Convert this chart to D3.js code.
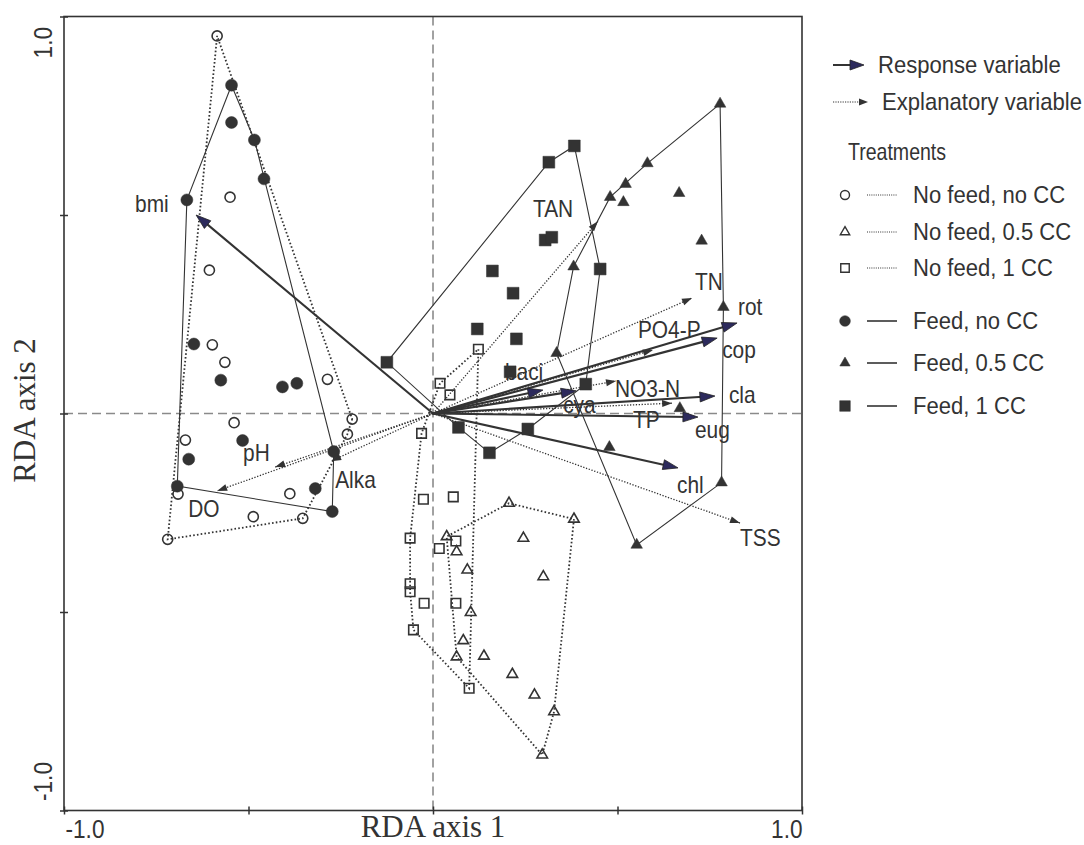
<!DOCTYPE html>
<html>
<head>
<meta charset="utf-8">
<script src="https://cdn.jsdelivr.net/npm/d3@7"></script>
<style>
  body { margin: 0; background: #fff; }
  text { fill: #333; }
  .sans { font-family: "Liberation Sans", Arial, Helvetica, sans-serif; }
  .serif { font-family: "Liberation Serif", "Times New Roman", serif; }
</style>
</head>
<body>
<svg id="chart" width="1084" height="845"></svg>
<script>
// ---- RDA site scores (axis 1, axis 2), one array per treatment ----
const noFeedNoCC = [
  [-0.585, 0.951], [-0.550, 0.545], [-0.606, 0.361], [-0.598, 0.173], [-0.564, 0.129],
  [-0.286, 0.086], [-0.219, -0.014], [-0.232, -0.052], [-0.539, -0.023], [-0.671, -0.067],
  [-0.691, -0.203], [-0.388, -0.202], [-0.487, -0.260], [-0.353, -0.264], [-0.719, -0.317]
];
const noFeedHalfCC = [
  [0.206, -0.226], [0.382, -0.266], [0.037, -0.310], [0.064, -0.348], [0.245, -0.314],
  [0.299, -0.411], [0.093, -0.394], [0.102, -0.501], [0.082, -0.572], [0.064, -0.613],
  [0.138, -0.611], [0.215, -0.657], [0.275, -0.709], [0.328, -0.751], [0.296, -0.860]
];
const noFeedOneCC = [
  [0.123, 0.162], [0.019, 0.076], [0.046, 0.047], [-0.031, -0.050], [-0.026, -0.216],
  [0.055, -0.210], [-0.062, -0.314], [0.062, -0.321], [0.017, -0.340], [-0.062, -0.429],
  [-0.062, -0.449], [-0.024, -0.478], [0.062, -0.478], [-0.053, -0.545], [0.098, -0.692]
];
const feedNoCC = [
  [-0.546, 0.827], [-0.546, 0.733], [-0.484, 0.689], [-0.458, 0.591], [-0.667, 0.538],
  [-0.648, 0.175], [-0.575, 0.084], [-0.408, 0.067], [-0.369, 0.076], [-0.516, -0.068],
  [-0.662, -0.115], [-0.693, -0.183], [-0.269, -0.096], [-0.319, -0.189], [-0.273, -0.247]
];
const feedHalfCC = [
  [0.778, 0.780], [0.581, 0.630], [0.522, 0.578], [0.480, 0.545], [0.516, 0.532],
  [0.667, 0.555], [0.728, 0.435], [0.381, 0.370], [0.787, 0.268], [0.335, 0.152],
  [0.669, 0.013], [0.478, -0.085], [0.782, -0.174], [0.552, -0.331]
];
const feedOneCC = [
  [0.383, 0.674], [0.314, 0.633], [0.304, 0.437], [0.322, 0.444], [0.161, 0.359],
  [0.453, 0.364], [0.217, 0.303], [0.120, 0.213], [0.226, 0.188], [-0.125, 0.129],
  [0.209, 0.105], [0.414, 0.074], [0.257, -0.039], [0.153, -0.099], [0.069, -0.035]
];

// ---- Species / response variable arrows ----
const responseNames = ["bmi", "rot", "cop", "cla", "eug", "chl", "baci", "cya"];
const responseAxis1 = [-0.642, 0.824, 0.770, 0.764, 0.718, 0.664, 0.298, 0.388];
const responseAxis2 = [0.500, 0.228, 0.190, 0.044, -0.009, -0.137, 0.059, 0.057];

// ---- Environmental / explanatory variable arrows ----
const explanatoryNames = ["TAN", "TN", "PO4-P", "NO3-N", "TP", "TSS", "pH", "DO", "Alka"];
const explanatoryAxis1 = [0.447, 0.702, 0.596, 0.496, 0.648, 0.832, -0.428, -0.585, -0.276];
const explanatoryAxis2 = [0.484, 0.291, 0.160, 0.082, 0.026, -0.276, -0.135, -0.195, -0.120];

// ---- Axis ticks ----
const tickValues = [-1, -0.5, 0, 0.5, 1];
const tickLabels = ["-1.0", "", "", "", "1.0"];

const treatmentNames = ["No feed, no CC", "No feed, 0.5 CC", "No feed, 1 CC", "Feed, no CC", "Feed, 0.5 CC", "Feed, 1 CC"];

// ---------------------------------------------------------------
const ink = "#333";
const headFill = "#2c2a5c";
const narrow = 0.87;   // horizontal squeeze for the condensed sans lettering

const groups = [
  { pts: noFeedNoCC,   shape: d3.symbolCircle,   size: 80,  open: true,  fed: false },
  { pts: noFeedHalfCC, shape: d3.symbolTriangle, size: 48,  open: true,  fed: false },
  { pts: noFeedOneCC,  shape: d3.symbolSquare,   size: 90,  open: true,  fed: false },
  { pts: feedNoCC,     shape: d3.symbolCircle,   size: 113, open: false, fed: true },
  { pts: feedHalfCC,   shape: d3.symbolTriangle, size: 58,  open: false, fed: true },
  { pts: feedOneCC,    shape: d3.symbolSquare,   size: 140, open: false, fed: true }
];

// label placement (pixel offsets from the arrow tip to the text start / baseline)
const labelOffset = {
  bmi: [-61, -3], rot: [1, -8], cop: [5, 20], cla: [14, 7], eug: [-3, 21], chl: [-1, 25],
  baci: [-38, -10], cya: [-13, 22],
  TAN: [-65, -4], TN: [3, -8], "PO4-P": [-15, -12], "NO3-N": [-1, 16], TP: [-39, 25],
  TSS: [0, 23], pH: [-32, -6], DO: [-29, 26], Alka: [4, 27]
};

const svg = d3.select("#chart");
const plotLeft = 64, plotRight = 802, plotTop = 16.5, plotBottom = 810.5;
const x = d3.scaleLinear().domain([-1, 1]).range([plotLeft, plotRight]);
const y = d3.scaleLinear().domain([-1, 1]).range([plotBottom, plotTop]);

function sansText(parent, px, py, str, size, squeeze) {
  return parent.append("text").attr("class", "sans")
    .attr("transform", `translate(${px},${py}) scale(${squeeze || narrow},1)`)
    .attr("font-size", size).text(str);
}

// zero lines
svg.append("line")
  .attr("x1", plotLeft).attr("x2", plotRight).attr("y1", y(0)).attr("y2", y(0))
  .attr("stroke", "#8a8a8a").attr("stroke-width", 1.3).attr("stroke-dasharray", "9,5");
svg.append("line")
  .attr("x1", x(0)).attr("x2", x(0)).attr("y1", plotTop).attr("y2", plotBottom)
  .attr("stroke", "#444").attr("stroke-width", 1).attr("stroke-dasharray", "9,5");

// frame
svg.append("rect")
  .attr("x", plotLeft).attr("y", plotTop).attr("width", plotRight - plotLeft).attr("height", plotBottom - plotTop)
  .attr("fill", "none").attr("stroke", ink).attr("stroke-width", 1.6);

// axes: ticks cross the frame
const fmt = d => tickLabels[tickValues.indexOf(d)];
svg.append("g")
  .attr("transform", `translate(0,${plotBottom - 4})`)
  .call(d3.axisBottom(x).tickValues(tickValues).tickSizeInner(8).tickSizeOuter(0).tickFormat(fmt))
  .call(g => g.select(".domain").remove())
  .call(g => g.selectAll(".tick line").attr("stroke", ink).attr("stroke-width", 1.5))
  .call(g => g.selectAll(".tick text")
      .attr("class", "sans").attr("font-size", 26).attr("fill", ink)
      .attr("x", 0).attr("y", 0).attr("dy", 0)
      .attr("text-anchor", (d, i) => i === 0 ? "start" : "end")
      .attr("transform", (d, i) => `translate(${i === 0 ? 1 : 0},31) scale(${narrow},1)`));

svg.append("g")
  .attr("transform", `translate(${plotLeft + 4},0)`)
  .call(d3.axisLeft(y).tickValues(tickValues).tickSizeInner(8).tickSizeOuter(0).tickFormat(fmt))
  .call(g => g.select(".domain").remove())
  .call(g => g.selectAll(".tick line").attr("stroke", ink).attr("stroke-width", 1.5))
  .call(g => g.selectAll(".tick text")
      .attr("class", "sans").attr("font-size", 26).attr("fill", ink)
      .attr("x", 0).attr("y", 0).attr("dy", 0)
      .attr("text-anchor", (d, i) => i === 0 ? "start" : "end")
      .attr("transform", (d, i) => `translate(-16,${i === 0 ? -10 : 10}) rotate(-90) scale(${narrow},1)`));

// axis titles
svg.append("text").attr("class", "serif").attr("font-size", 31)
  .attr("x", x(0)).attr("y", 837).attr("text-anchor", "middle").text("RDA axis 1");
svg.append("text").attr("class", "serif").attr("font-size", 31)
  .attr("transform", `translate(35,${y(0) - 3}) rotate(-90)`)
  .attr("text-anchor", "middle").text("RDA axis 2");

// ---- treatment envelopes ----
const hullLine = d3.line().x(d => x(d[0])).y(d => y(d[1])).curve(d3.curveLinearClosed);
const envelopes = svg.append("g").attr("fill", "none");
groups.forEach(g => {
  const hull = d3.polygonHull(g.pts);
  const p = envelopes.append("path").attr("d", hullLine(hull)).attr("stroke", ink);
  if (g.fed) p.attr("stroke-width", 1.1);
  else p.attr("stroke-width", 1.8).attr("stroke-dasharray", "1.6,2.2");
});

// ---- arrows ----
function headPath(x1, y1, x2, y2, L, W) {
  const dx = x2 - x1, dy = y2 - y1, d = Math.hypot(dx, dy);
  const ux = dx / d, uy = dy / d;
  const bx = x2 - ux * L, by = y2 - uy * L;
  return `M${x2},${y2}L${bx - uy * W / 2},${by + ux * W / 2}L${bx + uy * W / 2},${by - ux * W / 2}Z`;
}

const explanatory = explanatoryNames.map((n, i) => ({ name: n, a1: explanatoryAxis1[i], a2: explanatoryAxis2[i] }));
const response = responseNames.map((n, i) => ({ name: n, a1: responseAxis1[i], a2: responseAxis2[i] }));

const arrows = svg.append("g");
explanatory.forEach(v => {
  const x2 = x(v.a1), y2 = y(v.a2);
  arrows.append("line").attr("x1", x(0)).attr("y1", y(0)).attr("x2", x2).attr("y2", y2)
    .attr("stroke", ink).attr("stroke-width", 1.3).attr("stroke-dasharray", "1.3,1.6");
  arrows.append("path").attr("d", headPath(x(0), y(0), x2, y2, 10, 7)).attr("fill", ink);
});
response.forEach(v => {
  const x2 = x(v.a1), y2 = y(v.a2);
  const d = Math.hypot(x2 - x(0), y2 - y(0));
  const k = (d - 8) / d;
  arrows.append("line").attr("x1", x(0)).attr("y1", y(0))
    .attr("x2", x(0) + (x2 - x(0)) * k).attr("y2", y(0) + (y2 - y(0)) * k)
    .attr("stroke", ink).attr("stroke-width", 2.1);
  arrows.append("path").attr("d", headPath(x(0), y(0), x2, y2, 15, 10))
    .attr("fill", headFill).attr("stroke", "#222").attr("stroke-width", 0.8);
});

// ---- site symbols ----
const sites = svg.append("g");
groups.forEach(g => {
  sites.selectAll(null).data(g.pts).join("path")
    .attr("transform", d => `translate(${x(d[0])},${y(d[1])})`)
    .attr("d", d3.symbol(g.shape, g.size))
    .attr("fill", g.open ? "none" : ink)
    .attr("stroke", ink)
    .attr("stroke-width", g.open ? 1.6 : 0.5);
});

// ---- variable labels ----
const labels = svg.append("g");
[...response, ...explanatory].forEach(v => {
  const o = labelOffset[v.name];
  sansText(labels, x(v.a1) + o[0], y(v.a2) + o[1], v.name, 24);
});

// ---- legend ----
const lg = svg.append("g");
const legendSqueeze = 0.92;
lg.append("line").attr("x1", 833).attr("x2", 853).attr("y1", 65).attr("y2", 65)
  .attr("stroke", ink).attr("stroke-width", 2);
lg.append("path").attr("d", headPath(833, 65, 864, 65, 14, 10)).attr("fill", headFill).attr("stroke", "#222").attr("stroke-width", 0.8);
sansText(lg, 878, 73, "Response variable", 24, legendSqueeze);
lg.append("line").attr("x1", 833).attr("x2", 860).attr("y1", 102).attr("y2", 102)
  .attr("stroke", ink).attr("stroke-width", 1.2).attr("stroke-dasharray", "1.2,1.2");
lg.append("path").attr("d", headPath(833, 102, 868, 102, 9, 7)).attr("fill", ink);
sansText(lg, 882, 110, "Explanatory variable", 24, legendSqueeze);
sansText(lg, 848, 160, "Treatments", 23, 0.85);

const rowY = [195, 232, 268, 321, 363, 406];
groups.forEach((g, i) => {
  const ry = rowY[i];
  lg.append("path").attr("transform", `translate(845,${ry})`)
    .attr("d", d3.symbol(g.shape, g.size * 0.8))
    .attr("fill", g.open ? "none" : ink).attr("stroke", ink).attr("stroke-width", g.open ? 1.4 : 0.5);
  const l = lg.append("line").attr("x1", 867).attr("x2", 897).attr("y1", ry).attr("y2", ry).attr("stroke", ink);
  if (g.fed) l.attr("stroke-width", 1.6);
  else l.attr("stroke-width", 1).attr("stroke-dasharray", "1,1.2");
  sansText(lg, 913, ry + 8, treatmentNames[i], 24, legendSqueeze);
});
</script>
</body>
</html>
